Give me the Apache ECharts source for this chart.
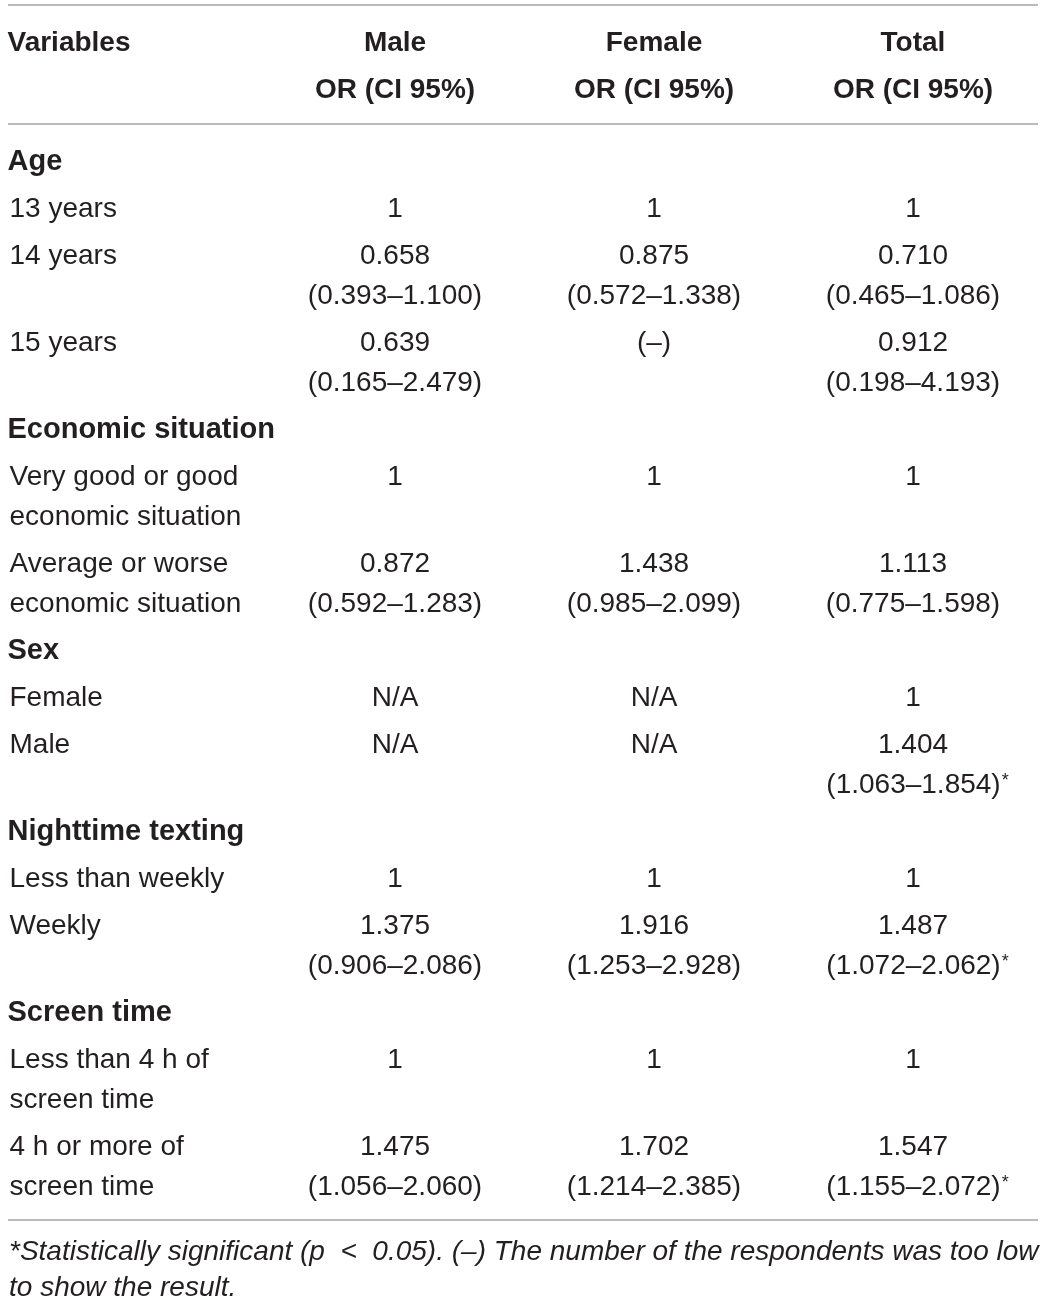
<!DOCTYPE html>
<html>
<head>
<meta charset="utf-8">
<script src="https://cdn.jsdelivr.net/npm/echarts@6/dist/echarts.min.js"></script>
<style>
  html, body { margin: 0; padding: 0; background: #fff; }
  #table { width: 1044px; height: 1301px; }
</style>
</head>
<body>
<div id="table"></div>
<script>
// table content
const columns = ['Variables', 'Male', 'Female', 'Total']
const subHeader = 'OR (CI 95%)'
const groupNames = ['Age', 'Economic situation', 'Sex', 'Nighttime texting', 'Screen time']
const rowGroup = [0, 0, 0, 1, 1, 2, 2, 3, 3, 4, 4]
const rowLabels = [
  '13 years', '14 years', '15 years',
  'Very good or good\neconomic situation', 'Average or worse\neconomic situation',
  'Female', 'Male',
  'Less than weekly', 'Weekly',
  'Less than 4 h of\nscreen time', '4 h or more of\nscreen time'
]
const maleOR   = ['1', '0.658', '0.639', '1', '0.872', 'N/A', 'N/A', '1', '1.375', '1', '1.475']
const maleCI   = ['', '0.393–1.100', '0.165–2.479', '', '0.592–1.283', '', '', '', '0.906–2.086', '', '1.056–2.060']
const femaleOR = ['1', '0.875', '(–)', '1', '1.438', 'N/A', 'N/A', '1', '1.916', '1', '1.702']
const femaleCI = ['', '0.572–1.338', '', '', '0.985–2.099', '', '', '', '1.253–2.928', '', '1.214–2.385']
const totalOR  = ['1', '0.710', '0.912', '1', '1.113', '1', '1.404', '1', '1.487', '1', '1.547']
const totalCI  = ['', '0.465–1.086', '0.198–4.193', '', '0.775–1.598', '', '1.063–1.854', '', '1.072–2.062', '', '1.155–2.072']
const totalSig = [false, false, false, false, false, false, true, false, true, false, true]
const footnote = '*Statistically significant (p  <  0.05). (–) The number of the respondents was too low\nto show the result.'

const FONT = 'Liberation Sans, Arial, sans-serif'
const INK = '#231f20'
const ROW_GAP = 47
const LINE_H = 40

// work out where each row sits
const cells = []
let y = 162
let prevLines = 0
let lastGroup = -1
rowGroup.forEach((g, i) => {
  if (g !== lastGroup) {
    if (lastGroup >= 0) y += ROW_GAP + (prevLines - 1) * LINE_H
    cells.push({ value: [0, y], text: groupNames[g], bold: true })
    prevLines = 1
    lastGroup = g
  }
  y += ROW_GAP + (prevLines - 1) * LINE_H
  const labelLines = rowLabels[i].split('\n').length
  const vals = [
    [maleOR[i], maleCI[i], false],
    [femaleOR[i], femaleCI[i], false],
    [totalOR[i], totalCI[i], totalSig[i]]
  ]
  const valLines = vals.some(v => v[1]) ? 2 : 1
  const lines = Math.max(labelLines, valLines)
  cells.push({ value: [0, y + (labelLines - 1) * LINE_H / 2], text: rowLabels[i], bold: false })
  vals.forEach((v, c) => {
    const n = v[1] ? 2 : 1
    let txt = '{n|' + v[0] + '}'
    // spacer on the left keeps the bracket centred, the star hangs to the right
    if (v[1]) txt += '\n' + (v[2] ? '{p|}' : '') + '{n|(' + v[1] + ')}' + (v[2] ? '{s|*}' : '')
    cells.push({ value: [c + 1, y + (n - 1) * LINE_H / 2], text: txt, center: true })
  })
  prevLines = lines
})

const chart = echarts.init(document.getElementById('table'))

const data = cells.map(c => ({
  value: c.value,
  label: c.center ? {
    align: 'center',
    formatter: c.text
  } : {
    align: 'left',
    offset: [c.bold ? -128.5 : -126.5, 0],
    fontWeight: c.bold ? 'bold' : 'normal',
    fontSize: c.bold ? 29 : 28,
    formatter: c.text
  }
}))

// header row
const headData = columns.map((name, i) => ({
  value: [i, i === 0 ? 43 : 66.5],
  label: i === 0 ? {
    align: 'left', offset: [-128.5, 0], formatter: name
  } : {
    align: 'center', formatter: name + '\n' + subHeader
  }
}))

const rule = yy => [{ x: 8, y: yy }, { x: 1038, y: yy }]

const option = {
  backgroundColor: '#fff',
  animation: false,
  grid: { left: 6.5, right: 1.5, top: 0, bottom: 0 },
  xAxis: { type: 'category', data: columns, show: false },
  yAxis: { type: 'value', inverse: true, min: 0, max: 1301, show: false },
  graphic: [{
    type: 'text',
    left: 9,
    top: 1234,
    style: {
      text: footnote,
      font: 'italic 28px ' + FONT,
      fill: INK,
      lineHeight: 36
    }
  }],
  series: [
    {
      type: 'scatter',
      symbolSize: 0,
      silent: true,
      itemStyle: { opacity: 1 },
      data: headData,
      label: {
        show: true, position: 'inside', color: INK, fontFamily: FONT,
        fontSize: 28, fontWeight: 'bold', lineHeight: 47
      },
      markLine: {
        silent: true,
        symbol: 'none',
        label: { show: false },
        lineStyle: { color: '#a3a3a3', width: 1.5, type: 'solid', opacity: 1 },
        data: [rule(5), rule(124), rule(1220)]
      }
    },
    {
      type: 'scatter',
      symbolSize: 0,
      silent: true,
      itemStyle: { opacity: 1 },
      data: data,
      label: {
        show: true, position: 'inside', color: INK, fontFamily: FONT,
        fontSize: 28, lineHeight: LINE_H,
        rich: {
          n: { fontSize: 28, lineHeight: LINE_H, fontFamily: FONT, color: INK },
          p: { width: 9, lineHeight: LINE_H },
          s: { fontSize: 18, lineHeight: LINE_H, fontFamily: FONT, color: INK, verticalAlign: 'top', padding: [7, 0, 0, 1] }
        }
      }
    }
  ]
}

chart.setOption(option)
</script>
</body>
</html>
